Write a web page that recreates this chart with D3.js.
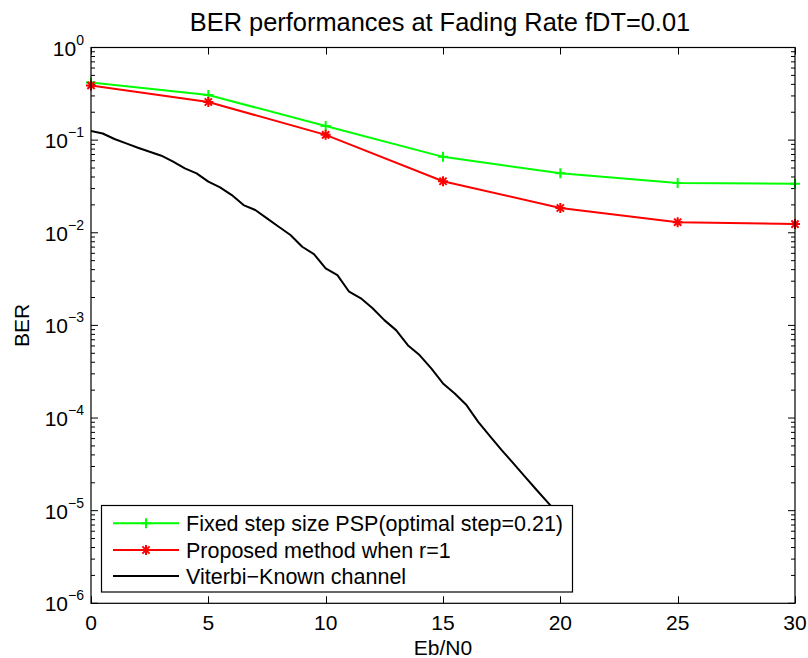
<!DOCTYPE html>
<html>
<head>
<meta charset="utf-8">
<script src="https://cdn.jsdelivr.net/npm/d3@7"></script>
<style>
  html, body { margin: 0; padding: 0; background: #fff; }
  svg { display: block; font-family: "Liberation Sans", Arial, Helvetica, sans-serif; }
</style>
</head>
<body>
<svg id="chart" width="808" height="658"></svg>
<script>
// ---- data ----
const titleText = "BER performances at Fading Rate fDT=0.01";
const xLabel = "Eb/N0";
const yLabel = "BER";
const xTicks = [0, 5, 10, 15, 20, 25, 30];
const yExponents = [0, -1, -2, -3, -4, -5, -6];

const snrCoarse = [0, 5, 10, 15, 20, 25, 30];
const berFixedStep = [0.42, 0.307, 0.142, 0.066, 0.044, 0.0344, 0.0338];
const berProposed = [0.39, 0.258, 0.114, 0.036, 0.0185, 0.013, 0.0124];

const snrFine = [0, 0.5, 1, 1.5, 2, 2.5, 3, 3.5, 4, 4.5, 5, 5.5, 6, 6.5, 7, 7.5, 8, 8.5, 9, 9.5,
                 10, 10.5, 11, 11.5, 12, 12.5, 13, 13.5, 14, 14.5, 15, 15.5, 16, 16.5, 17, 17.5,
                 18, 18.5, 19, 19.5, 20];
const berViterbi = [0.1254, 0.118, 0.1028, 0.0923, 0.0828, 0.0749, 0.0679, 0.0585, 0.0496, 0.0438,
                    0.0356, 0.0309, 0.0255, 0.0199, 0.0176, 0.0143, 0.0116, 0.00945, 0.00706, 0.00589,
                    0.00413, 0.00349, 0.00231, 0.00196, 0.00153, 0.00114, 0.000889, 0.000612, 0.000478, 0.000343,
                    0.000236, 0.000184, 0.000138, 0.000091, 0.0000638, 0.000045, 0.0000324, 0.0000232, 0.0000166, 0.000012,
                    0.0000087];

const seriesNames = ["Fixed step size PSP(optimal step=0.21)", "Proposed method when r=1", "Viterbi\u2212Known channel"];
const seriesColors = ["#00ff00", "#ff0000", "#000000"];

// ---- layout ----
const svg = d3.select("#chart");
const L = 91, R = 795, T = 47.5, B = 603.3;
const x = d3.scaleLinear().domain([0, 30]).range([L, R]);
const y = d3.scaleLog().domain([1e-6, 1]).range([B, T]);

const clipId = "plotclip";
svg.append("defs").append("clipPath").attr("id", clipId)
  .append("rect").attr("x", L).attr("y", T).attr("width", R - L).attr("height", B - T);

// ticks
const tickG = svg.append("g").attr("stroke", "#000").attr("stroke-width", 1);
xTicks.forEach(t => {
  const px = Math.round(x(t)) + 0.5;
  tickG.append("line").attr("x1", px).attr("x2", px).attr("y1", B).attr("y2", B - 7);
  tickG.append("line").attr("x1", px).attr("x2", px).attr("y1", T).attr("y2", T + 7);
});
yExponents.forEach(e => {
  const py = y(Math.pow(10, e));
  tickG.append("line").attr("x1", L).attr("x2", L + 7).attr("y1", py).attr("y2", py);
  tickG.append("line").attr("x1", R).attr("x2", R - 7).attr("y1", py).attr("y2", py);
  if (e > -6) {
    for (let m = 2; m <= 9; m++) {
      const my = y(m * Math.pow(10, e - 1));
      tickG.append("line").attr("x1", L).attr("x2", L + 4).attr("y1", my).attr("y2", my);
      tickG.append("line").attr("x1", R).attr("x2", R - 4).attr("y1", my).attr("y2", my);
    }
  }
});

// data lines
const plotG = svg.append("g").attr("clip-path", `url(#${clipId})`);
const line = d3.line().x(d => x(d[0])).y(d => y(d[1]));

plotG.append("path").datum(snrFine.map((s, i) => [s, berViterbi[i]]))
  .attr("d", line).attr("fill", "none").attr("stroke", seriesColors[2]).attr("stroke-width", 2)
  .attr("stroke-linejoin", "round");

plotG.append("path").datum(snrCoarse.map((s, i) => [s, berFixedStep[i]]))
  .attr("d", line).attr("fill", "none").attr("stroke", seriesColors[0]).attr("stroke-width", 2);

plotG.append("path").datum(snrCoarse.map((s, i) => [s, berProposed[i]]))
  .attr("d", line).attr("fill", "none").attr("stroke", seriesColors[1]).attr("stroke-width", 2);

function plusMarker(g, cx, cy, color) {
  g.append("path").attr("d", `M${cx - 5},${cy}H${cx + 5}M${cx},${cy - 5}V${cy + 5}`)
    .attr("stroke", color).attr("stroke-width", 2).attr("fill", "none");
}
function starMarker(g, cx, cy, color) {
  const r = 5, d = 3.6;
  g.append("path").attr("d",
    `M${cx - r},${cy}H${cx + r}M${cx},${cy - r}V${cy + r}M${cx - d},${cy - d}L${cx + d},${cy + d}M${cx - d},${cy + d}L${cx + d},${cy - d}`)
    .attr("stroke", color).attr("stroke-width", 2).attr("fill", "none");
}
const markG = svg.append("g");
snrCoarse.forEach((s, i) => plusMarker(markG, x(s), y(berFixedStep[i]), seriesColors[0]));
snrCoarse.forEach((s, i) => starMarker(markG, x(s), y(berProposed[i]), seriesColors[1]));

// frame
svg.append("rect").attr("x", L).attr("y", T).attr("width", R - L).attr("height", B - T)
  .attr("fill", "none").attr("stroke", "#000").attr("stroke-width", 1.2);

// tick labels
const fontSize = 21;
xTicks.forEach(t => {
  svg.append("text").attr("x", x(t)).attr("y", 630).attr("text-anchor", "middle")
    .attr("font-size", fontSize).attr("fill", "#000").text(t);
});
yExponents.forEach(e => {
  const py = y(Math.pow(10, e));
  const t = svg.append("text").attr("x", 84).attr("y", py + 8).attr("text-anchor", "end")
    .attr("font-size", fontSize).attr("fill", "#000");
  t.append("tspan").text("10");
  t.append("tspan").attr("font-size", 14).attr("dy", -11).text(e === 0 ? "0" : "\u2212" + Math.abs(e));
});

// axis labels
svg.append("text").attr("x", (L + R) / 2).attr("y", 655).attr("text-anchor", "middle")
  .attr("font-size", fontSize).attr("fill", "#000").text(xLabel);
svg.append("text").attr("transform", `translate(29,${(T + B) / 2}) rotate(-90)`)
  .attr("text-anchor", "middle").attr("font-size", fontSize).attr("fill", "#000").text(yLabel);

// title
svg.append("text").attr("x", 440).attr("y", 31).attr("text-anchor", "middle")
  .attr("font-size", 25.4).attr("fill", "#000").text(titleText);

// legend
const lg = svg.append("g");
lg.append("rect").attr("x", 101.5).attr("y", 505.5).attr("width", 471).attr("height", 86.5)
  .attr("fill", "#fff").attr("stroke", "#000").attr("stroke-width", 1.2);
const rowsY = [523.3, 550, 576];
seriesNames.forEach((name, i) => {
  const ry = rowsY[i];
  lg.append("line").attr("x1", 113).attr("x2", 179).attr("y1", ry).attr("y2", ry)
    .attr("stroke", seriesColors[i]).attr("stroke-width", 2);
  if (i === 0) plusMarker(lg, 146, ry, seriesColors[0]);
  if (i === 1) starMarker(lg, 146, ry, seriesColors[1]);
  lg.append("text").attr("x", 186).attr("y", ry + 7.5).attr("font-size", 21.5)
    .attr("fill", "#000").text(name);
});
</script>
</body>
</html>
